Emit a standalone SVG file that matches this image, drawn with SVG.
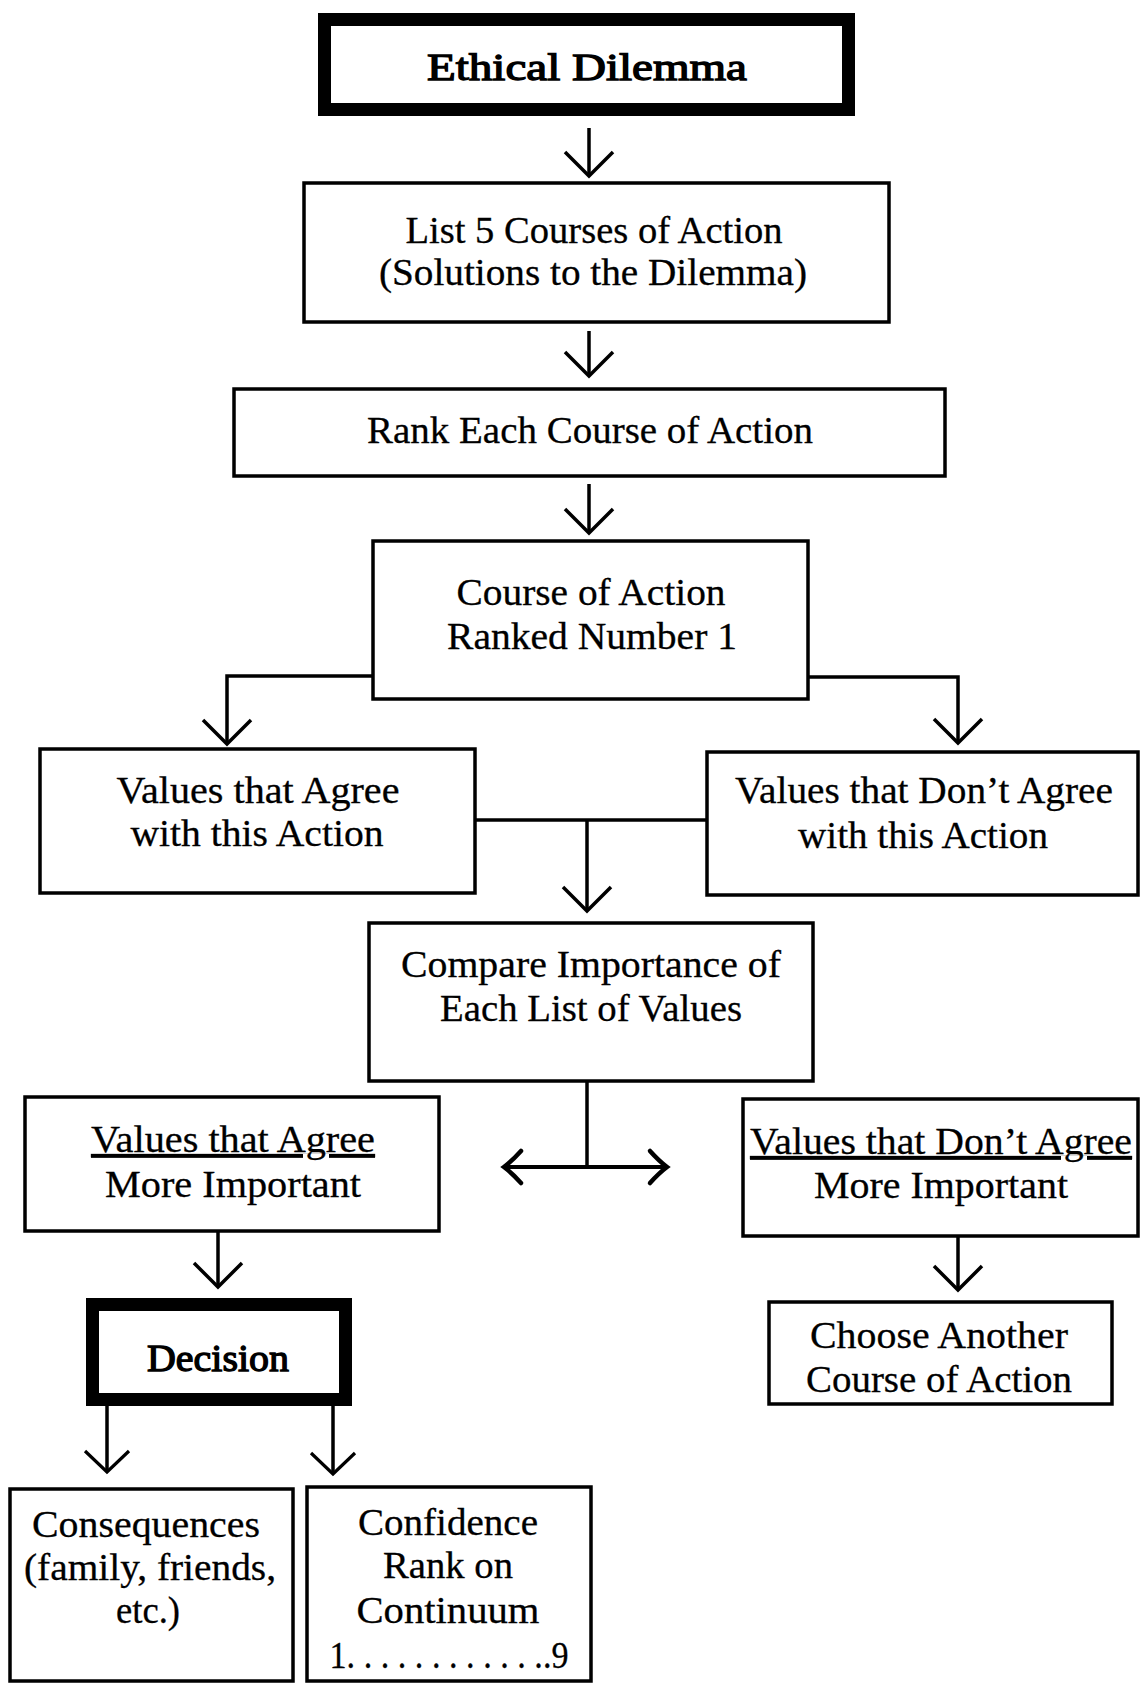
<svg xmlns="http://www.w3.org/2000/svg" width="1140" height="1683" viewBox="0 0 1140 1683">
<defs>
<style>
.box{fill:#fff;stroke:#000;stroke-width:3.5}
.thick{fill:#fff;stroke:#000;stroke-width:13}
.t{font-family:"Liberation Serif","Times New Roman",serif;font-size:38px;fill:#000;text-anchor:middle;stroke:#000;stroke-width:0.3}
.b{stroke-width:1.3;}
.c{fill:none;stroke:#000;stroke-width:3.5}
.c2{fill:none;stroke:#000;stroke-width:4}
</style>
<marker id="ah" markerUnits="userSpaceOnUse" markerWidth="60" markerHeight="60" viewBox="-30 -30 60 60" refX="0" refY="0" orient="auto">
<path d="M-24,-24 L0,0 L-24,24" fill="none" stroke="#000" stroke-width="3.5"/>
</marker>
<marker id="ahs" markerUnits="userSpaceOnUse" markerWidth="60" markerHeight="60" viewBox="-30 -30 60 60" refX="0" refY="0" orient="auto">
<path d="M-21,-22 L0,0 L-21,22" fill="none" stroke="#000" stroke-width="3.2"/>
</marker>
<marker id="ahd" markerUnits="userSpaceOnUse" markerWidth="60" markerHeight="60" viewBox="-30 -30 60 60" refX="0" refY="0" orient="auto-start-reverse">
<path d="M-17,-16 Q-8,-6 0,0 Q-8,6 -17,16" fill="none" stroke="#000" stroke-width="4.5" stroke-linecap="round"/>
</marker>
</defs>
<rect width="1140" height="1683" fill="#fff"/>

<g id="connectors">
<path class="c" d="M589,128 V176" marker-end="url(#ah)"/>
<path class="c" d="M589,331 V376" marker-end="url(#ah)"/>
<path class="c" d="M589,484 V533" marker-end="url(#ah)"/>
<path class="c" d="M373,676 H227 V744" marker-end="url(#ah)"/>
<path class="c" d="M808,677 H958 V743" marker-end="url(#ah)"/>
<path class="c" d="M475,820 H707"/>
<path class="c" d="M587,820 V911" marker-end="url(#ah)"/>
<path class="c" d="M587,1081 V1167"/>
<path class="c2" d="M504,1167 H667" marker-start="url(#ahd)" marker-end="url(#ahd)"/>
<path class="c" d="M218,1231 V1287" marker-end="url(#ah)"/>
<path class="c" d="M958,1236 V1290" marker-end="url(#ah)"/>
<path class="c" d="M107,1406 V1472" marker-end="url(#ahs)"/>
<path class="c" d="M333,1406 V1474" marker-end="url(#ahs)"/>
</g>

<g id="ethical-dilemma">
<rect class="thick" x="324.5" y="19.5" width="524" height="90"/>
<text class="t b" x="587" y="80" font-size="44" textLength="320" lengthAdjust="spacingAndGlyphs">Ethical Dilemma</text>
</g>

<g id="list-courses">
<rect class="box" x="304" y="183" width="585" height="139"/>
<text class="t" x="594" y="243" textLength="377" lengthAdjust="spacingAndGlyphs">List 5 Courses of Action</text>
<text class="t" x="593" y="285" textLength="428" lengthAdjust="spacingAndGlyphs">(Solutions to the Dilemma)</text>
</g>

<g id="rank-each">
<rect class="box" x="234" y="389" width="711" height="87"/>
<text class="t" x="590" y="443" textLength="446" lengthAdjust="spacingAndGlyphs">Rank Each Course of Action</text>
</g>

<g id="ranked-one">
<rect class="box" x="373" y="541" width="435" height="158"/>
<text class="t" x="591" y="605" textLength="269" lengthAdjust="spacingAndGlyphs">Course of Action</text>
<text class="t" x="592" y="649" textLength="290" lengthAdjust="spacingAndGlyphs">Ranked Number 1</text>
</g>

<g id="values-agree">
<rect class="box" x="40" y="749" width="435" height="144"/>
<text class="t" x="258" y="803" textLength="283" lengthAdjust="spacingAndGlyphs">Values that Agree</text>
<text class="t" x="257" y="846" textLength="253" lengthAdjust="spacingAndGlyphs">with this Action</text>
</g>

<g id="values-disagree">
<rect class="box" x="707" y="752" width="431" height="143"/>
<text class="t" x="924" y="803" textLength="378" lengthAdjust="spacingAndGlyphs">Values that Don’t Agree</text>
<text class="t" x="923" y="848" textLength="250" lengthAdjust="spacingAndGlyphs">with this Action</text>
</g>

<g id="compare">
<rect class="box" x="369" y="923" width="444" height="158"/>
<text class="t" x="591" y="977" textLength="380" lengthAdjust="spacingAndGlyphs">Compare Importance of</text>
<text class="t" x="591" y="1021" textLength="302" lengthAdjust="spacingAndGlyphs">Each List of Values</text>
</g>

<g id="agree-important">
<rect class="box" x="25" y="1097" width="414" height="134"/>
<text class="t" x="233" y="1152" textLength="284" lengthAdjust="spacingAndGlyphs" text-decoration="underline">Values that Agree</text>
<text class="t" x="233" y="1197" textLength="256" lengthAdjust="spacingAndGlyphs">More Important</text>
</g>

<g id="disagree-important">
<rect class="box" x="743" y="1099" width="395" height="137"/>
<text class="t" x="941" y="1154" textLength="382" lengthAdjust="spacingAndGlyphs" text-decoration="underline">Values that Don’t Agree</text>
<text class="t" x="941" y="1198" textLength="254" lengthAdjust="spacingAndGlyphs">More Important</text>
</g>

<g id="decision">
<rect class="thick" x="92.5" y="1304.5" width="253" height="95"/>
<text class="t b" x="218" y="1371" font-size="37" textLength="142" lengthAdjust="spacingAndGlyphs">Decision</text>
</g>

<g id="choose-another">
<rect class="box" x="769" y="1302" width="343" height="102"/>
<text class="t" x="939" y="1348" textLength="258" lengthAdjust="spacingAndGlyphs">Choose Another</text>
<text class="t" x="939" y="1392" textLength="266" lengthAdjust="spacingAndGlyphs">Course of Action</text>
</g>

<g id="consequences">
<rect class="box" x="10" y="1489" width="283" height="192"/>
<text class="t" x="146" y="1537" textLength="228" lengthAdjust="spacingAndGlyphs">Consequences</text>
<text class="t" x="150" y="1580" textLength="252" lengthAdjust="spacingAndGlyphs">(family, friends,</text>
<text class="t" x="148" y="1623" textLength="64" lengthAdjust="spacingAndGlyphs">etc.)</text>
</g>

<g id="confidence">
<rect class="box" x="307" y="1487" width="284" height="194"/>
<text class="t" x="448" y="1535" textLength="180" lengthAdjust="spacingAndGlyphs">Confidence</text>
<text class="t" x="448" y="1578" textLength="130" lengthAdjust="spacingAndGlyphs">Rank on</text>
<text class="t" x="448" y="1623" textLength="183" lengthAdjust="spacingAndGlyphs">Continuum</text>
<text class="t" x="449" y="1668" textLength="239" lengthAdjust="spacingAndGlyphs">1. . . . . . . . . . . ..9</text>
</g>
</svg>
